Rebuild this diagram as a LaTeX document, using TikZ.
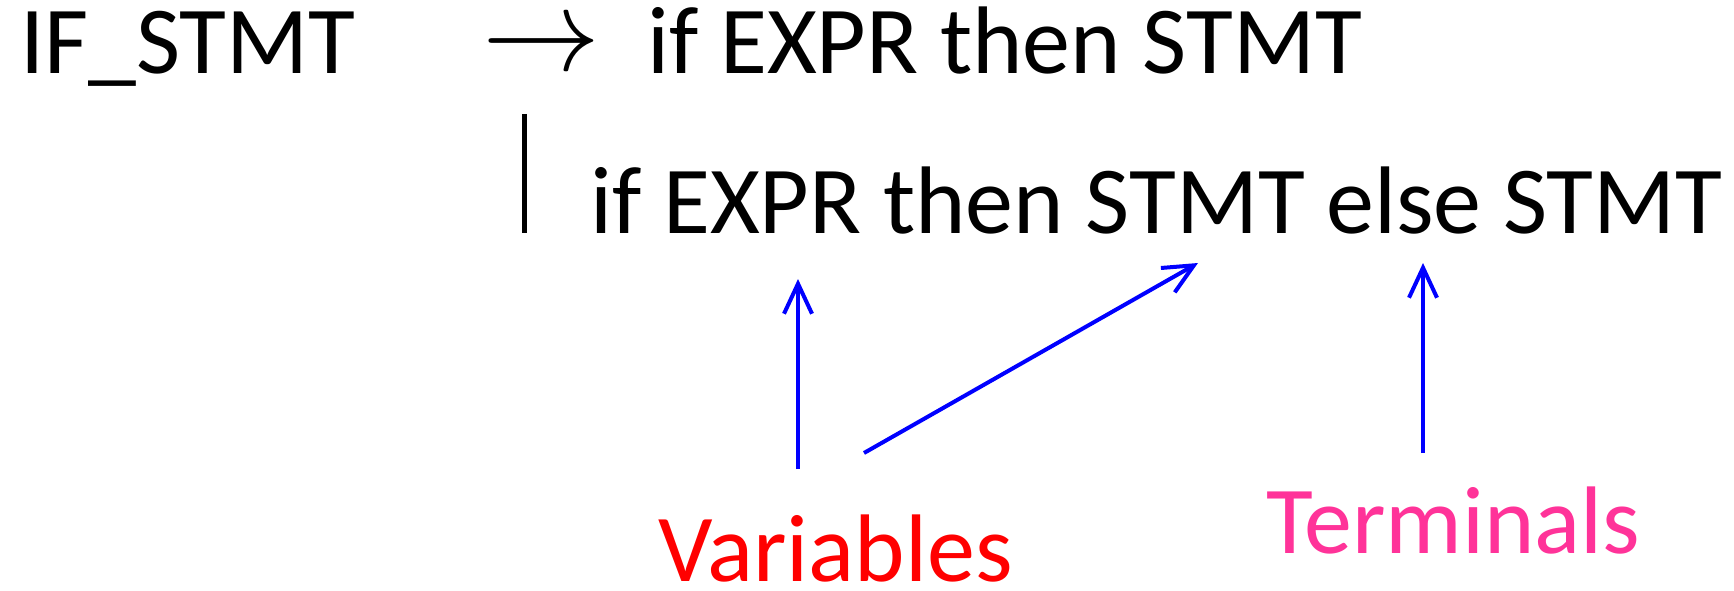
\RequirePackage{fix-cm}
\documentclass[tikz,border=0pt]{standalone}
\usepackage{fontspec}
\setmainfont{Carlito}
\usetikzlibrary{arrows.meta}
\definecolor{termpink}{RGB}{255,51,153}
\begin{document}
\begin{tikzpicture}
  [x=1pt,y=-1pt,every node/.style={inner sep=0pt,anchor=base west,font=\fontsize{96}{110}\selectfont},
   pointer/.style={blue,line width=4pt,-{Straight Barb[length=30pt,width=28pt]}}]
  \useasboundingbox (0,0) rectangle (1734,591);
  \node (lhs) at (20,74) {IF\_STMT};
  \node[font=\fontsize{118}{120}\selectfont] (yields) at (482,70.5) {$\rightarrow$};
  \node (alt1) at (647,74) {if EXPR then STMT};
  \node (alt2) at (590,233) {if EXPR then STMT else STMT};
  \node[red] (vars) at (658,581) {Variables};
  \node[termpink] (terms) at (1266,553) {Terminals};

  % alternative bar
  \coordinate (bartop) at (524.5,114);
  \coordinate (barbot) at (524.5,233);
  \draw[line width=5pt] (bartop) -- (barbot);

  \coordinate (v1) at (798,469);
  \coordinate (expr) at (798,279);
  \coordinate (v2) at (864,453);
  \coordinate (stmt) at (1198,263);
  \coordinate (t1) at (1423,453);
  \coordinate (else) at (1423,263);

  \foreach \from/\to in {v1/expr,v2/stmt,t1/else}
    \draw[pointer] (\from) -- (\to);

\end{tikzpicture}
\end{document}
